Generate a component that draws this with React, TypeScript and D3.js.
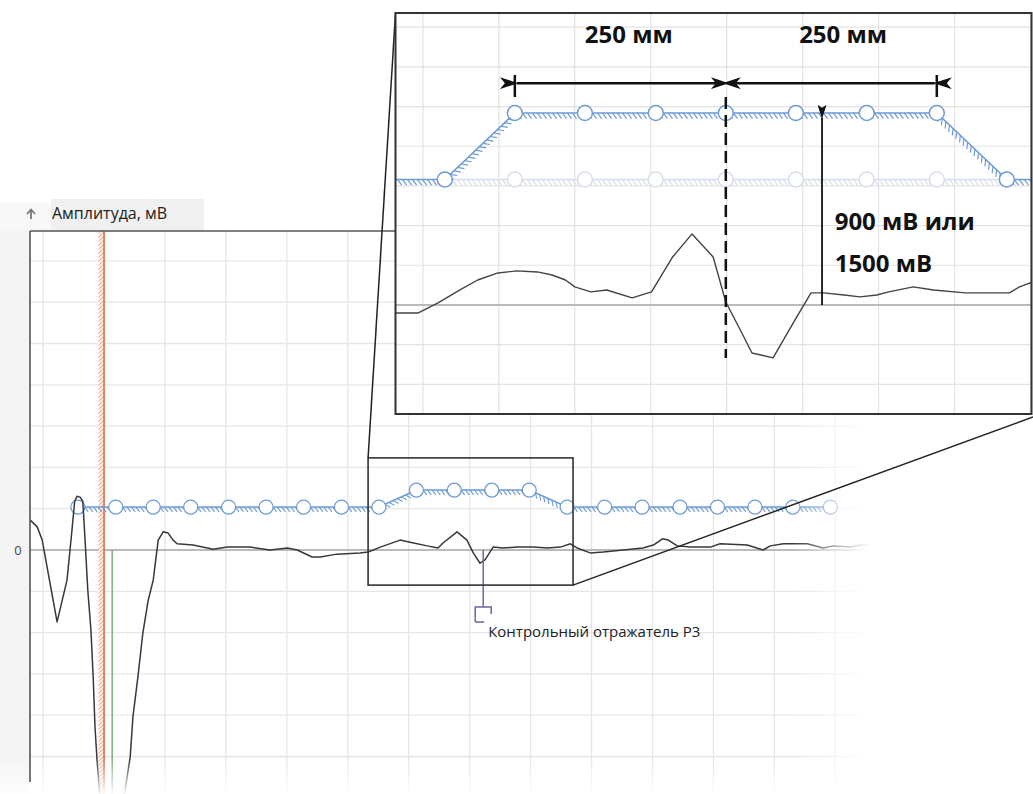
import React from "react";
import * as d3 from "d3";

const W = 1033;
const H = 794;
const FONT = "'Open Sans', 'DejaVu Sans', sans-serif";

// main reflectogram: distance along the line, mm / amplitude, mV
const traceDist = [
  0, 16, 27, 60, 82, 93, 99, 104, 111, 117, 122, 128, 135, 140, 144, 149, 173, 222, 228, 239, 250, 262, 273, 284, 295,
  306, 317, 326, 361, 406, 437, 488, 532, 570, 592, 625, 643, 680, 731, 749, 776, 820, 842, 880, 904, 915, 946, 968,
  982, 997, 1008, 1026, 1048, 1079, 1115, 1146, 1175, 1197, 1212, 1241, 1270, 1314, 1358, 1381, 1401, 1414, 1434,
  1463, 1507, 1529, 1589, 1624, 1640, 1669, 1722, 1757, 1779, 1817, 1839, 1880,
];
const traceAmp = [
  730, 560, 240, -1740, -730, 480, 1180, 1300, 1280, 1180, 240, -970, -1940, -3080, -4290, -5160, -8470, -5010, -4040,
  -3080, -2010, -1210, -730, 240, 440, 410, 240, 150, 120, 20, 70, 70, 0, 50, 0, -170, -170, -100, -70, -50, 70, 240,
  190, 100, 50, 170, 440, 240, -70, -320, -240, 70, 50, 70, 70, 50, 70, 150, 50, -70, -50, 0, 50, 120, 270, 240, 100,
  70, 70, 150, 120, 0, 100, 150, 150, 50, 100, 70, 120, 100,
];

// threshold sensors along the main trace
const sensorDist = [106, 190, 273, 356, 440, 523, 606, 690, 773, 856, 940, 1023, 1106, 1190, 1273, 1356, 1440, 1523, 1606, 1690, 1773];
const sensorAmp = [1040, 1040, 1040, 1040, 1040, 1040, 1040, 1040, 1040, 1450, 1450, 1450, 1450, 1040, 1040, 1040, 1040, 1040, 1040, 1040, 1040];

const blankZone = [152, 164];
const startMarkDist = 182;
const reflectorDist = 1004;
const reflectorDepth = -1380;
const reflectorLabel = "Контрольный отражатель Р3";
const zoomDist = [749, 1203];
const zoomAmp = [-850, 2230];
const yLabel = "Амплитуда, мВ";

// inset: distance from the reflector centre, mm / amplitude, mV
const insetTraceDist = [
  -392, -365, -341, -329, -315, -294, -270, -248, -223, -206, -190, -179, -160, -141, -111, -88, -63, -40, -15, 0, 19,
  31, 56, 82, 101, 116, 140, 159, 179, 193, 222, 246, 284, 305, 336, 348, 364,
];
const insetTraceAmp = [
  -63, -63, 16, 63, 117, 195, 250, 266, 258, 234, 195, 141, 102, 117, 55, 102, 375, 555, 375, 23, -219, -375, -414,
  -117, 94, 94, 78, 63, 78, 102, 141, 117, 94, 94, 94, 141, 180,
];
const insetSensorDist = [-392, -333, -250, -167, -83, 0, 83, 167, 250, 333, 364];
const insetSensorAmp = [980, 980, 1500, 1500, 1500, 1500, 1500, 1500, 1500, 980, 980];
const insetBaseDist = [-333, -250, -167, -83, 0, 83, 167, 250, 333];
const insetBaseAmp = 980;
const spanEdges = [-250, 0, 250];
const spanLabels = ["250 мм", "250 мм"];
const spanLabelDist = [-115, 139];
const heightDist = 114;
const heightAmp = 1470;
const heightLabels = ["900 мВ или", "1500 мВ"];

type P = [number, number];

function hatch(pts: P[], step: number, len: number) {
  let d = "";
  for (let i = 0; i < pts.length - 1; i++) {
    const [x0, y0] = pts[i];
    const [x1, y1] = pts[i + 1];
    const L = Math.hypot(x1 - x0, y1 - y0);
    if (!L) continue;
    const dx = (x1 - x0) / L;
    const dy = (y1 - y0) / L;
    const tx = (0.8 * -dy + 0.6 * dx) * len;
    const ty = (0.8 * dx + 0.6 * dy) * len;
    for (let s = step / 2; s < L; s += step) {
      d += `M${x0 + dx * s},${y0 + dy * s}l${tx},${ty}`;
    }
  }
  return d;
}

export default function App() {
  // main scales
  const x = d3.scaleLinear().domain([0, 2222]).range([30, 1033]);
  const y = d3.scaleLinear().domain([-6000, 7700]).range([797.8, 232]);
  const plotTop = 231;
  const plotLeft = 30;

  const line = d3.line<P>().x((d) => d[0]).y((d) => d[1]);
  const trace: P[] = traceDist.map((d, i) => [x(d), y(traceAmp[i])]);
  const sensors: P[] = sensorDist.map((d, i) => [x(d), y(sensorAmp[i])]);

  const gridX = d3.range(29, 2222, 135);
  const gridY = d3.range(-6000, 7700, 1000);

  // inset scales
  const ix = d3.scaleLinear().domain([-392, 364]).range([395, 1033]);
  const iy = d3.scaleLinear().domain([-852, 2281]).range([414, 13]);
  const inset = { x0: 395.5, y0: 13, x1: 1031.5, y1: 414 };
  const igridX = d3.range(-359, 364, 90);
  const igridY = d3.range(-620, 2281, 310);
  const iTrace: P[] = insetTraceDist.map((d, i) => [ix(d), iy(insetTraceAmp[i])]);
  const iSensors: P[] = insetSensorDist.map((d, i) => [ix(d), iy(insetSensorAmp[i])]);
  const iBase: P[] = insetBaseDist.map((d) => [ix(d), iy(insetBaseAmp)]);

  const rx = x(reflectorDist);
  const ry = y(reflectorDepth);

  const blue = "#6e9bd6";
  const ghost = "#d6dfeb";

  return (
    <svg width={W} height={H} style={{ position: "absolute", left: 0, top: 0, background: "#fff" }} fontFamily={FONT}>
      <defs>
        <pattern id="redHatch" width="4" height="4" patternUnits="userSpaceOnUse">
          <rect width="4" height="4" fill="#fff" />
          <path d="M0,4L4,0M-1,1L1,-1M3,5L5,3" stroke="#f3a283" strokeWidth="1.1" />
        </pattern>
        <linearGradient id="fadeR" x1="0" x2="1" y1="0" y2="0">
          <stop offset="0" stopColor="#fff" stopOpacity="0" />
          <stop offset="1" stopColor="#fff" stopOpacity="1" />
        </linearGradient>
        <linearGradient id="fadeB" x1="0" x2="0" y1="0" y2="1">
          <stop offset="0" stopColor="#fff" stopOpacity="0" />
          <stop offset="1" stopColor="#fff" stopOpacity="0.95" />
        </linearGradient>
        <clipPath id="plotClip">
          <rect x={plotLeft} y={plotTop} width={W - plotLeft} height={H - plotTop} />
        </clipPath>
        <clipPath id="insetClip">
          <rect x={inset.x0} y={inset.y0} width={inset.x1 - inset.x0} height={inset.y1 - inset.y0} />
        </clipPath>
        <marker id="ah" viewBox="0 0 18 12" refX="1" refY="6" markerWidth="18" markerHeight="12" markerUnits="userSpaceOnUse" orient="auto-start-reverse">
          <path d="M0,6L18,0L13,6L18,12Z" fill="#111" />
        </marker>
        <marker id="ahs" viewBox="0 0 14 9" refX="1" refY="4.5" markerWidth="14" markerHeight="9" markerUnits="userSpaceOnUse" orient="auto-start-reverse">
          <path d="M0,4.5L14,0L11,4.5L14,9Z" fill="#111" />
        </marker>
      </defs>

      {/* margins */}
      <rect x={0} y={plotTop} width={plotLeft} height={H - plotTop} fill="#f4f4f4" />
      <rect x={0} y={203} width={51} height={plotTop - 203} fill="#f8f8f8" />
      <rect x={51} y={199} width={153} height={plotTop - 199} fill="#f0f0f0" />

      {/* main plot */}
      <g clipPath="url(#plotClip)">
        {gridX.map((g) => (
          <line key={"gx" + g} x1={x(g)} x2={x(g)} y1={plotTop} y2={H} stroke="#e6e6e6" strokeWidth={1.3} />
        ))}
        {gridY.map((g) => (
          <line key={"gy" + g} x1={plotLeft} x2={W} y1={y(g)} y2={y(g)} stroke={g === 0 ? "#a3a3a3" : "#e6e6e6"} strokeWidth={g === 0 ? 1.4 : 1.3} />
        ))}

        <rect x={x(blankZone[0])} y={plotTop} width={x(blankZone[1]) - x(blankZone[0])} height={H - plotTop} fill="url(#redHatch)" />
        <line x1={x(blankZone[1])} x2={x(blankZone[1])} y1={plotTop} y2={H} stroke="#ea6a45" strokeWidth={1.6} />
        <line x1={x(startMarkDist)} x2={x(startMarkDist)} y1={y(0)} y2={H} stroke="#5f9a62" strokeWidth={1.2} />

        <path d={line(sensors) || ""} fill="none" stroke={blue} strokeWidth={1.5} />
        <path d={hatch(sensors, 4.5, 6)} fill="none" stroke={blue} strokeWidth={1.1} />
        {sensors.map((p, i) => (
          <circle key={"s" + i} cx={p[0]} cy={p[1]} r={7} fill="#fff" stroke={blue} strokeWidth={1.3} />
        ))}

        <path d={line(trace) || ""} fill="none" stroke="#383838" strokeWidth={1.5} strokeLinejoin="round" />

        <line x1={rx} x2={rx} y1={y(0)} y2={ry} stroke="#6c66a6" strokeWidth={1.5} />
        <path d={`M${rx - 8},${ry + 15}V${ry}H${rx + 8}V${ry + 7}M${rx - 8},${ry + 15}H${rx + 1}`} fill="none" stroke="#6c66a6" strokeWidth={1.5} />

        <rect x={x(zoomDist[0])} y={y(zoomAmp[1])} width={x(zoomDist[1]) - x(zoomDist[0])} height={y(zoomAmp[0]) - y(zoomAmp[1])} fill="none" stroke="#333" strokeWidth={1.6} />
      </g>

      {/* fades */}
      <rect x={790} y={plotTop} width={80} height={H - plotTop} fill="url(#fadeR)" />
      <rect x={870} y={plotTop} width={W - 870} height={H - plotTop} fill="#fff" />
      <rect x={0} y={758} width={870} height={H - 758} fill="url(#fadeB)" />

      {/* frame & labels */}
      <line x1={plotLeft} x2={inset.x0} y1={plotTop} y2={plotTop} stroke="#555" strokeWidth={1.6} />
      <line x1={plotLeft} x2={plotLeft} y1={plotTop} y2={H - 12} stroke="#555" strokeWidth={1.6} />
      <text x={18} y={y(0) + 5} textAnchor="middle" fontSize={13} fill="#444">0</text>
      <path d="M31,219V210M27,214L31,209.5L35,214" fill="none" stroke="#777" strokeWidth={1.8} />
      <text x={52} y={219} fontSize={16} fill="#222">{yLabel}</text>
      <text x={rx + 5} y={ry + 30} fontSize={15} fill="#222">{reflectorLabel}</text>

      {/* connectors */}
      <line x1={inset.x0} y1={inset.y0} x2={x(zoomDist[0])} y2={y(zoomAmp[1])} stroke="#222" strokeWidth={1.5} />
      <line x1={x(zoomDist[1])} y1={y(zoomAmp[0])} x2={W} y2={inset.y1 + 3} stroke="#222" strokeWidth={1.5} />

      {/* inset */}
      <rect x={inset.x0} y={inset.y0} width={inset.x1 - inset.x0} height={inset.y1 - inset.y0} fill="#fff" />
      <g clipPath="url(#insetClip)">
        {igridX.map((g) => (
          <line key={"ix" + g} x1={ix(g)} x2={ix(g)} y1={inset.y0} y2={inset.y1} stroke="#e3e3e3" strokeWidth={1.2} />
        ))}
        {igridY.map((g) => (
          <line key={"iy" + g} x1={inset.x0} x2={inset.x1} y1={iy(g)} y2={iy(g)} stroke="#e3e3e3" strokeWidth={1.2} />
        ))}
        <line x1={inset.x0} x2={inset.x1} y1={iy(0)} y2={iy(0)} stroke="#a8a8a8" strokeWidth={1.6} />

        <path d={line(iBase) || ""} fill="none" stroke={ghost} strokeWidth={1.6} />
        <path d={hatch(iBase, 5, 7)} fill="none" stroke={ghost} strokeWidth={1.2} />
        {iBase.slice(1, -1).map((p, i) => (
          <circle key={"ib" + i} cx={p[0]} cy={p[1]} r={7.5} fill="#fff" stroke={ghost} strokeWidth={1.5} />
        ))}

        <path d={line(iSensors) || ""} fill="none" stroke={blue} strokeWidth={1.6} />
        <path d={hatch(iSensors, 5, 7)} fill="none" stroke={blue} strokeWidth={1.2} />
        {iSensors.slice(1, -1).map((p, i) => (
          <circle key={"is" + i} cx={p[0]} cy={p[1]} r={7.5} fill="#fff" stroke={blue} strokeWidth={1.5} />
        ))}

        <path d={line(iTrace) || ""} fill="none" stroke="#444" strokeWidth={1.4} strokeLinejoin="round" />

        {/* span arrows */}
        {[0, 2].map((i) => (
          <line key={"bar" + i} x1={ix(spanEdges[i])} x2={ix(spanEdges[i])} y1={iy(1796)} y2={iy(1624)} stroke="#111" strokeWidth={2.5} />
        ))}
        {[0, 1].map((i) => (
          <line key={"sp" + i} x1={ix(spanEdges[i]) + 2} x2={ix(spanEdges[i + 1]) - 2} y1={iy(1733)} y2={iy(1733)} stroke="#111" strokeWidth={2.5} markerStart="url(#ah)" markerEnd="url(#ah)" />
        ))}
        <line x1={ix(0)} x2={ix(0)} y1={iy(1624)} y2={iy(-414)} stroke="#111" strokeWidth={2.5} strokeDasharray="12 6" />
        <line x1={ix(heightDist)} x2={ix(heightDist)} y1={iy(0)} y2={iy(heightAmp) + 1} stroke="#111" strokeWidth={1.8} markerEnd="url(#ahs)" />

        {spanLabels.map((t, i) => (
          <text key={"sl" + i} x={ix(spanLabelDist[i])} y={iy(2046)} textAnchor="middle" fontSize={24} fontWeight="bold" fill="#111">{t}</text>
        ))}
        <text x={ix(129)} y={iy(585)} fontSize={24} fontWeight="bold" fill="#111">{heightLabels[0]}</text>
        <text x={ix(129)} y={iy(257)} fontSize={24} fontWeight="bold" fill="#111">{heightLabels[1]}</text>
      </g>
      <rect x={inset.x0} y={inset.y0} width={inset.x1 - inset.x0} height={inset.y1 - inset.y0} fill="none" stroke="#333" strokeWidth={2} />
    </svg>
  );
}
